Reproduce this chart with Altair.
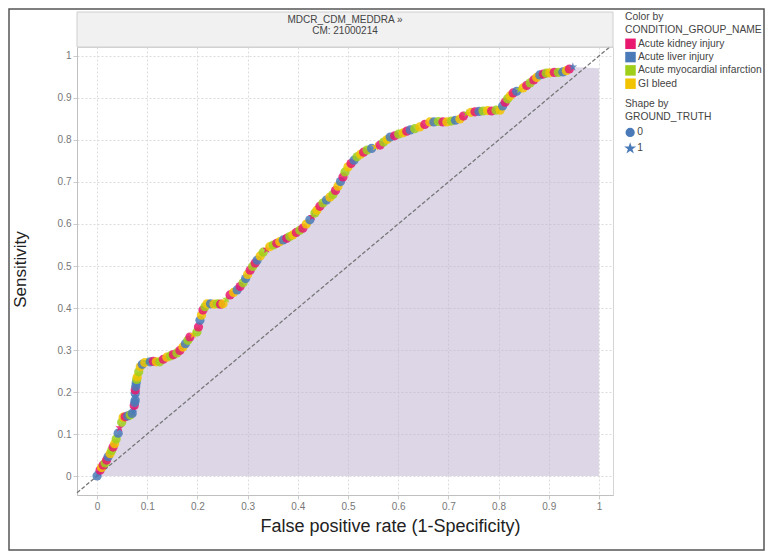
import altair as alt
import pandas as pd

# ---- data ----
fpr = [
    0.000, 0.003, 0.006, 0.009, 0.012, 0.016, 0.019, 0.022, 0.026, 0.029,
    0.032, 0.035, 0.038, 0.042, 0.045, 0.049, 0.052, 0.056, 0.061, 0.066,
    0.070, 0.072, 0.073, 0.074, 0.075, 0.076, 0.076, 0.076, 0.076, 0.077,
    0.078, 0.079, 0.080, 0.083, 0.086, 0.090, 0.095, 0.100, 0.106, 0.112,
    0.118, 0.125, 0.132, 0.139, 0.146, 0.152, 0.159, 0.165, 0.171, 0.176,
    0.181, 0.185, 0.192, 0.199, 0.202, 0.205, 0.208, 0.211, 0.215, 0.219,
    0.226, 0.233, 0.240, 0.246, 0.251, 0.258, 0.265, 0.272, 0.279, 0.285,
    0.291, 0.296, 0.300, 0.305, 0.310, 0.315, 0.319, 0.325, 0.331, 0.338,
    0.344, 0.351, 0.358, 0.364, 0.371, 0.378, 0.384, 0.390, 0.397, 0.404,
    0.410, 0.417, 0.424, 0.429, 0.434, 0.438, 0.444, 0.450, 0.457, 0.464,
    0.470, 0.475, 0.480, 0.485, 0.490, 0.494, 0.500, 0.506, 0.512, 0.518,
    0.525, 0.531, 0.538, 0.547, 0.555, 0.564, 0.571, 0.578, 0.584, 0.593,
    0.601, 0.610, 0.617, 0.624, 0.633, 0.643, 0.653, 0.663, 0.671, 0.680,
    0.689, 0.697, 0.706, 0.714, 0.723, 0.730, 0.737, 0.745, 0.753, 0.761,
    0.769, 0.778, 0.786, 0.795, 0.803, 0.808, 0.813, 0.818, 0.823, 0.829,
    0.836, 0.842, 0.849, 0.856, 0.863, 0.870, 0.876, 0.882, 0.889, 0.895,
    0.902, 0.911, 0.919, 0.928, 0.935, 0.941, 0.948,
]
tpr = [
    0.000, 0.008, 0.014, 0.020, 0.026, 0.031, 0.038, 0.046, 0.053, 0.061,
    0.069, 0.077, 0.088, 0.102, 0.115, 0.128, 0.140, 0.141, 0.143, 0.145,
    0.149, 0.152, 0.160, 0.168, 0.175, 0.181, 0.189, 0.197, 0.205, 0.213,
    0.222, 0.230, 0.236, 0.248, 0.260, 0.266, 0.270, 0.272, 0.272, 0.273,
    0.272, 0.272, 0.278, 0.283, 0.286, 0.289, 0.293, 0.299, 0.307, 0.315,
    0.323, 0.331, 0.337, 0.343, 0.355, 0.371, 0.383, 0.395, 0.403, 0.410,
    0.410, 0.409, 0.410, 0.409, 0.410, 0.421, 0.431, 0.437, 0.443, 0.451,
    0.460, 0.470, 0.480, 0.490, 0.499, 0.507, 0.514, 0.524, 0.533, 0.540,
    0.546, 0.550, 0.554, 0.558, 0.562, 0.566, 0.570, 0.574, 0.580, 0.585,
    0.590, 0.600, 0.610, 0.618, 0.626, 0.633, 0.642, 0.650, 0.657, 0.664,
    0.670, 0.680, 0.690, 0.701, 0.712, 0.724, 0.736, 0.744, 0.752, 0.760,
    0.766, 0.771, 0.776, 0.780, 0.784, 0.788, 0.795, 0.801, 0.807, 0.810,
    0.814, 0.817, 0.821, 0.824, 0.827, 0.831, 0.837, 0.843, 0.843, 0.844,
    0.843, 0.843, 0.845, 0.847, 0.850, 0.857, 0.864, 0.866, 0.867, 0.868,
    0.869, 0.870, 0.869, 0.871, 0.871, 0.881, 0.890, 0.898, 0.905, 0.912,
    0.916, 0.920, 0.924, 0.930, 0.936, 0.943, 0.949, 0.955, 0.957, 0.959,
    0.960, 0.961, 0.961, 0.962, 0.965, 0.969, 0.974,
]
condition_codes = (
    "LLKGKMKLGM" "KGMLKMGKLM" "LLLKLLLLKL" "LMGMGLGMLK" "GMKGMKMKGL"
    "MKGMKLGKMG" "LGMKGMKGLK" "MLGKMKLGMK" "GMKGLKMGKM" "KGLKMGKMLG"
    "MKGLKMGKLM" "GKMLGKMGLK" "MGKLMGKGLM" "KGMLGKMGKL" "MGKMGLKMGK"
    "LMGKMKGLKM" "GKMLGKL"
)
truth_codes = (
    "0100000000" "0000100000" "0110001000" "0000000100" "0000000000"
    "0010000000" "0000010000" "0000000001" "0000000000" "0001000000"
    "0000000000" "0000100000" "0000000000" "0000001000" "0000000000"
    "0100000000" "0000001"
)
conditions = ["Acute kidney injury", "Acute liver injury",
              "Acute myocardial infarction", "GI bleed"]
condition_colors = ["#e8196f", "#4a7ab8", "#9fcf1b", "#f2c300"]
code_names = {"K": conditions[0], "L": conditions[1], "M": conditions[2], "G": conditions[3]}

area_end_x = 1.0
area_end_y = 0.971
tick_values = [0, 0.1, 0.2, 0.3, 0.4, 0.5, 0.6, 0.7, 0.8, 0.9, 1.0]
x_domain = [-0.04, 1.028]
y_domain = [-0.0452, 1.0214]
header_lines = ["MDCR_CDM_MEDDRA \u00bb", "CM: 21000214"]

STAR = ("M0,-1L0.2245,-0.309L0.951,-0.309L0.363,0.118L0.588,0.809L0,0.382"
        "L-0.588,0.809L-0.363,0.118L-0.951,-0.309L-0.2245,-0.309Z")

pts = pd.DataFrame({
    "fpr": fpr,
    "tpr": tpr,
    "CONDITION_GROUP_NAME": [code_names[c] for c in condition_codes],
    "GROUND_TRUTH": list(truth_codes),
})
area_df = pd.DataFrame({"fpr": fpr + [area_end_x], "tpr": tpr + [area_end_y]})
area_df["base"] = 0.0
diag_df = pd.DataFrame({"fpr": [x_domain[0], y_domain[1]], "tpr": [x_domain[0], y_domain[1]]})
one = pd.DataFrame({"a": [0]})

W, H = 536, 448
FONT = "Liberation Sans"

xs = alt.Scale(domain=x_domain, nice=False, zero=False)
ys = alt.Scale(domain=y_domain, nice=False, zero=False)

x_axis = alt.Axis(values=tick_values, format=".1~f",
                  title="False positive rate (1-Specificity)",
                  titleFontSize=18, titleX=313, titleY=22,
                  titleBaseline="top", titleAlign="center")
y_axis = alt.Axis(values=tick_values, format=".1~f", title="Sensitivity",
                  titleFontSize=17, titleX=-57, titleY=222, titleAngle=270,
                  titleBaseline="middle", titleAlign="center")

area = alt.Chart(area_df).mark_area(color="#b9aed0", fillOpacity=0.5, opacity=1,
                                    interpolate="linear").encode(
    x=alt.X("fpr:Q", scale=xs, axis=x_axis),
    y=alt.Y("tpr:Q", scale=ys, axis=y_axis, stack=None),
    y2=alt.Y2("base:Q"),
)

diag = alt.Chart(diag_df).mark_line(color="#777777", strokeDash=[4, 2], strokeWidth=1.3).encode(
    x=alt.X("fpr:Q", scale=xs), y=alt.Y("tpr:Q", scale=ys)
)

points = alt.Chart(pts).mark_point(filled=True, size=85, opacity=0.85).encode(
    x=alt.X("fpr:Q", scale=xs),
    y=alt.Y("tpr:Q", scale=ys),
    color=alt.Color("CONDITION_GROUP_NAME:N",
                    scale=alt.Scale(domain=conditions, range=condition_colors),
                    legend=alt.Legend(title=["Color by", "CONDITION_GROUP_NAME"],
                                      orient="none", legendX=548, legendY=-35,
                                      symbolType="square", symbolSize=110,
                                      symbolStrokeWidth=0, symbolOpacity=1,
                                      rowPadding=2.3, labelOffset=2, titlePadding=3)),
    shape=alt.Shape("GROUND_TRUTH:N",
                    scale=alt.Scale(domain=["0", "1"], range=["circle", STAR]),
                    legend=alt.Legend(title=["Shape by", "GROUND_TRUTH"],
                                      orient="none", legendX=548, legendY=52,
                                      symbolFillColor="#4a7ab8", symbolStrokeColor="#4a7ab8",
                                      symbolSize=60, symbolOpacity=1,
                                      rowPadding=1, labelOffset=2, titlePadding=5)),
)

header_rect = alt.Chart(one).mark_rect(fill="#f1f1f1", stroke="#cfcfcf", strokeWidth=1).encode(
    x=alt.value(0), x2=alt.value(W), y=alt.value(-35), y2=alt.value(0)
)
header_t1 = alt.Chart(one).mark_text(font=FONT, fontSize=10, color="#444444").encode(
    x=alt.value(W / 2), y=alt.value(-27), text=alt.value(header_lines[0])
)
header_t2 = alt.Chart(one).mark_text(font=FONT, fontSize=10, color="#444444").encode(
    x=alt.value(W / 2), y=alt.value(-16), text=alt.value(header_lines[1])
)
frame = alt.Chart(one).mark_rect(fill=None, stroke="#555555", strokeWidth=1.5).encode(
    x=alt.value(-68), x2=alt.value(687), y=alt.value(-38), y2=alt.value(503)
)

chart = alt.layer(area, diag, points, header_rect, header_t1, header_t2, frame).properties(
    width=W, height=H,
    autosize=alt.AutoSizeParams(type="none"),
    padding={"left": 69, "top": 39, "right": 152, "bottom": 56},
).configure_view(
    stroke="#d5d5d5"
).configure_axis(
    labelFont=FONT, labelFontSize=10, labelColor="#777777",
    titleFont=FONT, titleFontWeight="normal", titleColor="#222222",
    gridColor="#dcdcdc", gridDash=[2, 2], tickColor="#cccccc", tickSize=4,
    domainColor="#c0c0c0", labelPadding=2,
).configure_legend(
    titleFont=FONT, titleFontSize=10.3, titleFontWeight="normal", titleColor="#444444",
    titleLineHeight=13, labelFont=FONT, labelFontSize=10.3, labelColor="#444444",
)

chart.save("out.html", embed_options={"renderer": "svg", "actions": False})
